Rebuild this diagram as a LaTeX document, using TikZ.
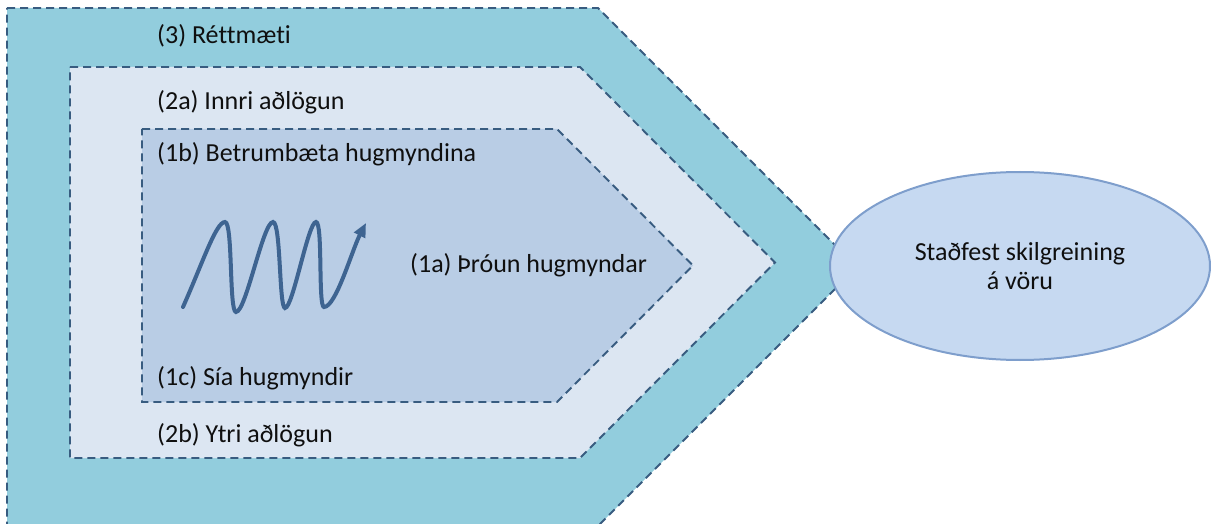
\documentclass[tikz,border=0pt]{standalone}
\usepackage{fontspec}
\setmainfont{Carlito}[Ligatures=NoCommon]
\usetikzlibrary{shapes.geometric,arrows.meta}

\definecolor{ringouter}{RGB}{146,205,221}
\definecolor{ringmiddle}{RGB}{220,230,242}
\definecolor{ringinner}{RGB}{185,205,229}
\definecolor{goalfill}{RGB}{198,217,241}
\definecolor{goalline}{RGB}{126,158,204}
\definecolor{dashline}{RGB}{56,92,128}
\definecolor{waveline}{RGB}{62,100,145}
\definecolor{ink}{RGB}{15,15,15}

\tikzset{
  zone/.style={draw=dashline, line width=1.9pt, dash pattern=on 8pt off 5pt, line join=miter},
  lbl/.style={anchor=base west, inner sep=0pt, font=\fontsize{26}{30}\selectfont, text=ink},
  goal/.style={ellipse, draw=goalline, line width=2pt, fill=goalfill,
    minimum width=380pt, minimum height=188pt, inner sep=0pt, align=center,
    font=\fontsize{26}{29}\selectfont, text=ink},
  wave/.style={draw=waveline, line width=4pt, line cap=round,
    -{Triangle[length=14pt,width=12pt]}}
}

\begin{document}
\begin{tikzpicture}[x=1pt,y=-1pt]
\useasboundingbox (0,0) rectangle (1211,524);
\clip (0,0) rectangle (1211,524);

% (3) outermost zone
\draw[zone, fill=ringouter] (7,8) -- (598,8) -- (857,267) -- (598,526) -- (7,526) -- cycle;
% (2) middle zone
\draw[zone, fill=ringmiddle] (70,67) -- (580,67) -- (775,262.5) -- (580,458) -- (70,458) -- cycle;
% (1) inner zone
\draw[zone, fill=ringinner] (142,129) -- (557,129) -- (693,265.5) -- (557,402) -- (142,402) -- cycle;

% idea development wave
\draw[wave] (183,307)
  .. controls (203,262) and (216,222) .. (225,222)
  .. controls (233,222) and (229,312) .. (236,312)
  .. controls (246,312) and (263,222) .. (273,222)
  .. controls (281,222) and (279,308) .. (285,308)
  .. controls (293,308) and (308,222) .. (316,222)
  .. controls (323,222) and (318,307) .. (324,307)
  .. controls (336,307) and (352,250) .. (366,223);

% zone labels
\node[lbl] (l3)  at (157,44)  {(3) Réttmæti};
\node[lbl] (l2a) at (157,110) {(2a) Innri aðlögun};
\node[lbl] (l1b) at (157,162) {(1b) Betrumbæta hugmyndina};
\node[lbl] (l1a) at (410,272) {(1a) Þróun hugmyndar};
\node[lbl] (l1c) at (157,385) {(1c) Sía hugmyndir};
\node[lbl] (l2b) at (157,442) {(2b) Ytri aðlögun};

% outcome
\node[goal] (goal) at (1020,266) {Staðfest skilgreining\\á vöru};
\end{tikzpicture}
\end{document}
